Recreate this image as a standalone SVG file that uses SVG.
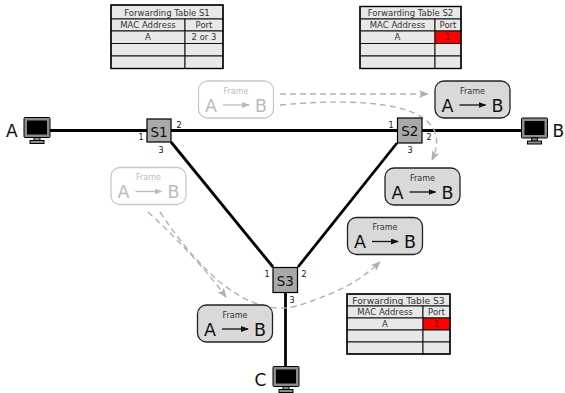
<svg xmlns="http://www.w3.org/2000/svg" width="565" height="393" viewBox="0 0 565 393">
<defs>
<style>
text{font-family:"DejaVu Sans","Liberation Sans",sans-serif}
.link{stroke:#000;stroke-width:2.8;fill:none}
.sw{fill:#a9a9a9;stroke:#000;stroke-width:1.2}
.swt{font-size:13.5px;text-anchor:middle;fill:#111}
.port{font-size:8px;fill:#111;text-anchor:middle}
.tb{fill:#e8e8e8;stroke:#111;stroke-width:1}
.tbo{fill:none;stroke:#000;stroke-width:1.4}
.tt{font-size:8.5px;fill:#333;text-anchor:middle}
.red{fill:#ff0000;stroke:#111;stroke-width:1}
.redt{font-size:8.5px;fill:#7a0000;text-anchor:middle}
.fr{fill:#d9d9d9;stroke:#222;stroke-width:1.3}
.frg{fill:#fff;stroke:#c8c8c8;stroke-width:1.3}
.frs{font-size:8px;text-anchor:middle;fill:#333}
.frsg{font-size:8px;text-anchor:middle;fill:#bbb}
.frl{font-size:17.5px;fill:#111}
.frlg{font-size:17.5px;fill:#bbb}
.fa{stroke:#111;stroke-width:1.3;fill:none}
.fag{stroke:#bbb;stroke-width:1.3;fill:none}
.dash{stroke:#b0b0b0;stroke-width:1.4;stroke-dasharray:6,4;fill:none}
.mon{fill:#8c8c8c;stroke:#000;stroke-width:1}
.scr{fill:#000}
.lbl{font-size:17px;fill:#111}
</style>
<marker id="ah" viewBox="0 0 10 8" refX="9" refY="4" markerWidth="10" markerHeight="8" markerUnits="userSpaceOnUse" orient="auto">
<path d="M0,0 L10,4 L0,8 L2.5,4 z" fill="#b0b0b0"/>
</marker>
<marker id="fah" viewBox="0 0 8 6" refX="7" refY="3" markerWidth="8" markerHeight="6" markerUnits="userSpaceOnUse" orient="auto">
<path d="M0,0 L8,3 L0,6 z" fill="#111"/>
</marker>
<marker id="fahg" viewBox="0 0 8 6" refX="7" refY="3" markerWidth="8" markerHeight="6" markerUnits="userSpaceOnUse" orient="auto">
<path d="M0,0 L8,3 L0,6 z" fill="#bbb"/>
</marker>
<g id="monitor">
<rect class="mon" x="0" y="0" width="26" height="20" rx="1"/>
<rect class="scr" x="3" y="3" width="20" height="14"/>
<rect class="mon" x="10" y="20" width="6" height="3"/>
<rect class="mon" x="6" y="23" width="14" height="3"/>
</g>
</defs>

<g id="connectors">
<line class="link" x1="50" y1="130.5" x2="147" y2="130.5"/>
<line class="link" x1="171" y1="130.5" x2="397" y2="130.5"/>
<line class="link" x1="422" y1="130.5" x2="522" y2="130.5"/>
<line class="link" x1="171" y1="142" x2="273" y2="267"/>
<line class="link" x1="397" y1="143" x2="298" y2="267"/>
<line class="link" x1="285.5" y1="293" x2="285.5" y2="367"/>
<path class="dash" d="M280,94 L428,94" marker-end="url(#ah)"/>
<path class="dash" d="M280,105 C390,95 455,110 432,160" marker-end="url(#ah)"/>
<path class="dash" d="M148,212 Q195,255 226,297" marker-end="url(#ah)"/>
<path class="dash" d="M160,212 C205,280 255,320 300,305 S360,280 380,262" marker-end="url(#ah)"/>
</g>

<g id="hostA">
<use href="#monitor" x="24" y="117.5"/>
<text class="lbl" x="6" y="137">A</text>
</g>
<g id="hostB">
<use href="#monitor" x="521.5" y="118"/>
<text class="lbl" x="552.5" y="137">B</text>
</g>
<g id="hostC">
<use href="#monitor" x="273" y="366.5"/>
<text class="lbl" x="254.5" y="386">C</text>
</g>

<g id="S1">
<rect class="sw" x="147" y="119" width="24" height="23"/>
<text class="swt" x="159" y="136.5">S1</text>
<text class="port" x="141" y="139.5">1</text>
<text class="port" x="179" y="128">2</text>
<text class="port" x="161" y="153">3</text>
</g>
<g id="S2">
<rect class="sw" x="397.5" y="118" width="24.5" height="25"/>
<text class="swt" x="409.8" y="136">S2</text>
<text class="port" x="391" y="128">1</text>
<text class="port" x="429" y="140">2</text>
<text class="port" x="410" y="153">3</text>
</g>
<g id="S3">
<rect class="sw" x="273" y="267.5" width="24.5" height="25"/>
<text class="swt" x="285.3" y="285.5">S3</text>
<text class="port" x="267" y="276.5">1</text>
<text class="port" x="304" y="276.5">2</text>
<text class="port" x="292" y="302.5">3</text>
</g>

<g id="tableS1">
<rect class="tb" x="111" y="5" width="112" height="14"/>
<rect class="tb" x="111" y="19" width="74" height="12"/>
<rect class="tb" x="185" y="19" width="38" height="12"/>
<rect class="tb" x="111" y="31" width="74" height="12.5"/>
<rect class="tb" x="185" y="31" width="38" height="12.5"/>
<rect class="tb" x="111" y="43.5" width="74" height="12.5"/>
<rect class="tb" x="185" y="43.5" width="38" height="12.5"/>
<rect class="tb" x="111" y="56" width="74" height="12.5"/>
<rect class="tb" x="185" y="56" width="38" height="12.5"/>
<rect class="tbo" x="111" y="5" width="112" height="63.5"/>
<text class="tt" x="167" y="15.5">Forwarding Table S1</text>
<text class="tt" x="148" y="28">MAC Address</text>
<text class="tt" x="204" y="28">Port</text>
<text class="tt" x="148" y="40.3">A</text>
<text class="tt" x="204" y="40.3">2 or 3</text>
</g>

<g id="tableS2">
<rect class="tb" x="360" y="6.5" width="101" height="12.5"/>
<rect class="tb" x="360" y="19" width="75" height="12"/>
<rect class="tb" x="435" y="19" width="26" height="12"/>
<rect class="tb" x="360" y="31" width="75" height="12.5"/>
<rect class="red" x="435" y="31" width="26" height="12.5"/>
<rect class="tb" x="360" y="43.5" width="75" height="12.5"/>
<rect class="tb" x="435" y="43.5" width="26" height="12.5"/>
<rect class="tb" x="360" y="56" width="75" height="12.5"/>
<rect class="tb" x="435" y="56" width="26" height="12.5"/>
<rect class="tbo" x="360" y="6.5" width="101" height="62"/>
<text class="tt" x="410.5" y="16">Forwarding Table S2</text>
<text class="tt" x="397.5" y="28">MAC Address</text>
<text class="tt" x="448" y="28">Port</text>
<text class="tt" x="397.5" y="40.3">A</text>
<text class="redt" x="448" y="40.3">1</text>
</g>

<g id="tableS3">
<rect class="tb" x="347" y="294" width="103" height="12"/>
<rect class="tb" x="347" y="306" width="76" height="12"/>
<rect class="tb" x="423" y="306" width="27" height="12"/>
<rect class="tb" x="347" y="318" width="76" height="12"/>
<rect class="red" x="423" y="318" width="27" height="12"/>
<rect class="tb" x="347" y="330" width="76" height="12"/>
<rect class="tb" x="423" y="330" width="27" height="12"/>
<rect class="tb" x="347" y="342" width="76" height="12"/>
<rect class="tb" x="423" y="342" width="27" height="12"/>
<rect class="tbo" x="347" y="294" width="103" height="60"/>
<text class="tt" x="398.5" y="303.5" style="font-size:9.2px">Forwarding Table S3</text>
<text class="tt" x="385" y="315">MAC Address</text>
<text class="tt" x="436.5" y="315">Port</text>
<text class="tt" x="385" y="327">A</text>
<text class="redt" x="436.5" y="327">1</text>
</g>

<g id="frameGhost1">
<rect class="frg" x="198.5" y="81" width="75" height="37" rx="9"/>
<text class="frsg" x="236" y="93.5">Frame</text>
<text class="frlg" x="205" y="111.5">A</text>
<line class="fag" x1="223" y1="105" x2="249" y2="105" marker-end="url(#fahg)"/>
<text class="frlg" x="255" y="111.5">B</text>
</g>
<g id="frameGhost2">
<rect class="frg" x="111" y="167.5" width="75" height="37" rx="9"/>
<text class="frsg" x="148.5" y="180">Frame</text>
<text class="frlg" x="117.5" y="198">A</text>
<line class="fag" x1="135.5" y1="191.5" x2="161.5" y2="191.5" marker-end="url(#fahg)"/>
<text class="frlg" x="167.5" y="198">B</text>
</g>
<g id="frameS2a">
<rect class="fr" x="435" y="81" width="75" height="37" rx="9"/>
<text class="frs" x="472.5" y="93.5">Frame</text>
<text class="frl" x="441.5" y="111.5">A</text>
<line class="fa" x1="459.5" y1="105" x2="485.5" y2="105" marker-end="url(#fah)"/>
<text class="frl" x="491.5" y="111.5">B</text>
</g>
<g id="frameS2b">
<rect class="fr" x="385" y="168" width="75" height="37" rx="9"/>
<text class="frs" x="422.5" y="180.5">Frame</text>
<text class="frl" x="391.5" y="198.5">A</text>
<line class="fa" x1="409.5" y1="192" x2="435.5" y2="192" marker-end="url(#fah)"/>
<text class="frl" x="441.5" y="198.5">B</text>
</g>
<g id="frameS3a">
<rect class="fr" x="347.5" y="217.5" width="75" height="37" rx="9"/>
<text class="frs" x="385" y="230">Frame</text>
<text class="frl" x="354" y="248">A</text>
<line class="fa" x1="372" y1="241.5" x2="398" y2="241.5" marker-end="url(#fah)"/>
<text class="frl" x="404" y="248">B</text>
</g>
<g id="frameS3b">
<rect class="fr" x="197.5" y="305" width="75" height="37" rx="9"/>
<text class="frs" x="235" y="317.5">Frame</text>
<text class="frl" x="204" y="335.5">A</text>
<line class="fa" x1="222" y1="329" x2="248" y2="329" marker-end="url(#fah)"/>
<text class="frl" x="254" y="335.5">B</text>
</g>
</svg>
